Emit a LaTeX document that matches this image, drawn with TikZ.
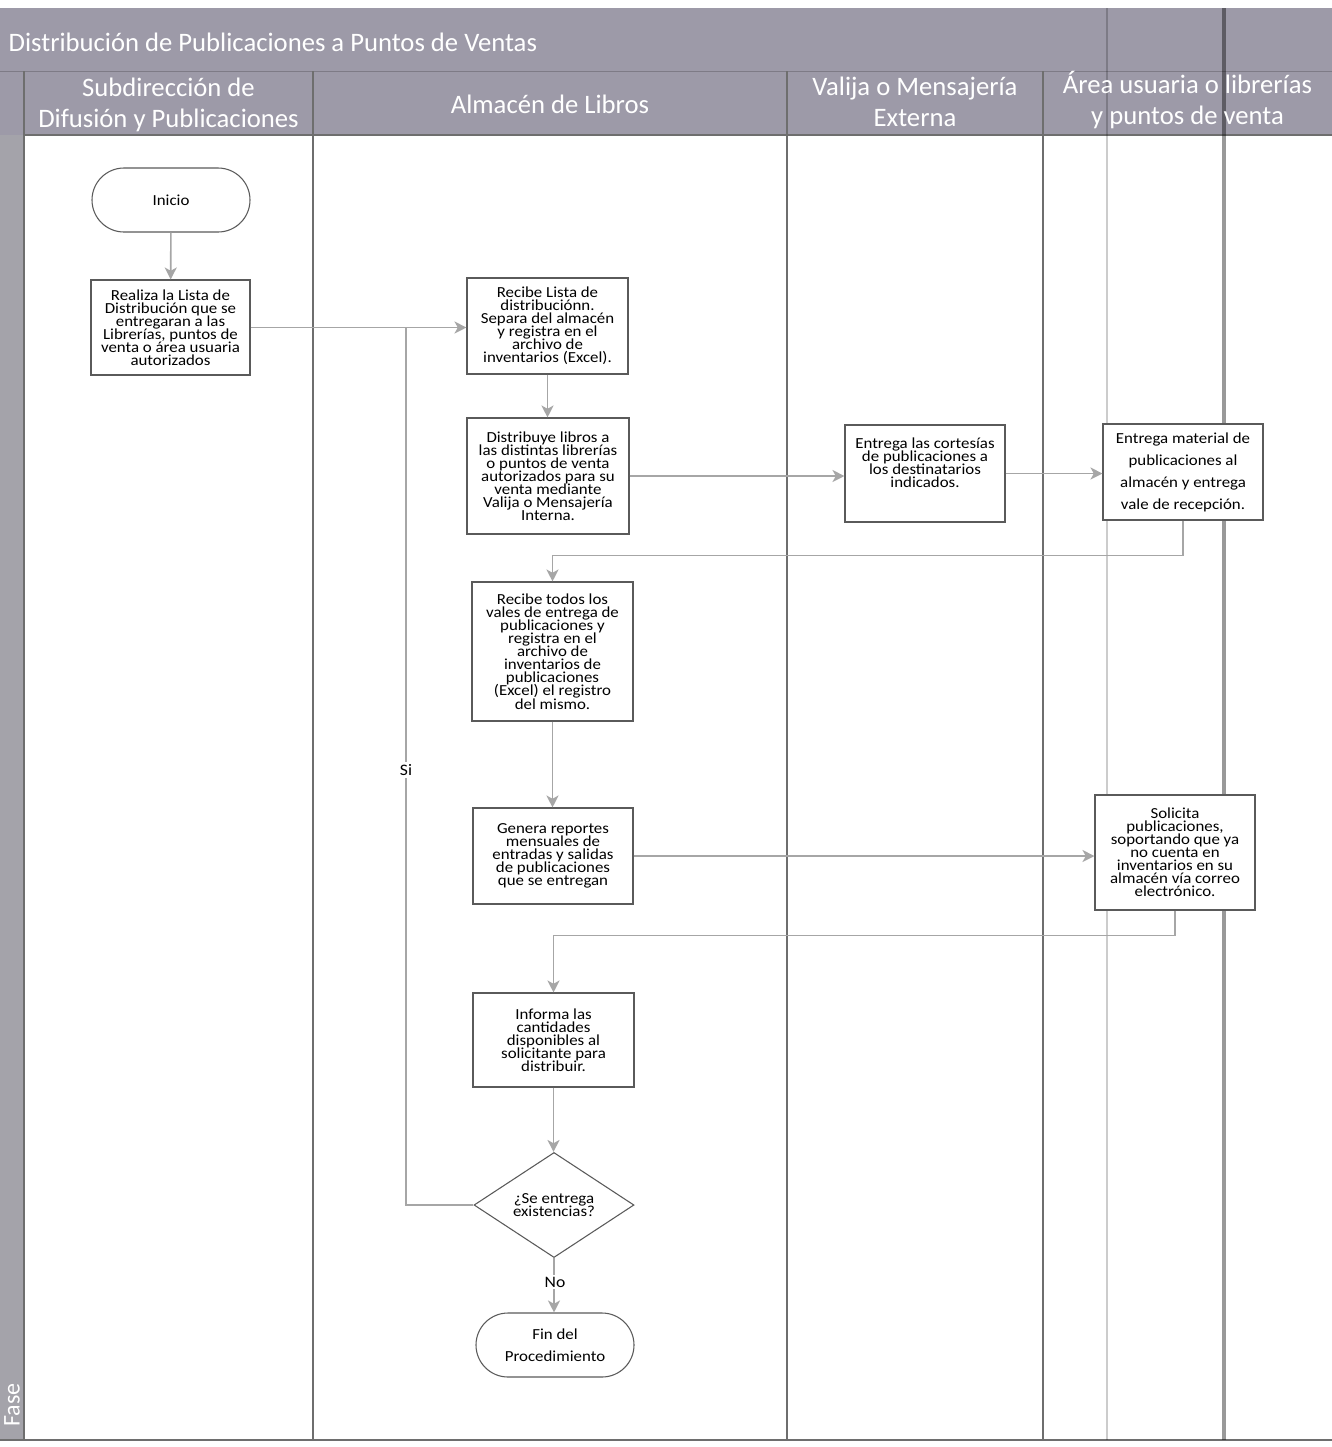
\documentclass[tikz,border=0pt]{standalone}
\usepackage{fontspec}
\setmainfont{Carlito}
\newfontfamily\boxfont{Carlito}[FakeStretch=1.1]
\usetikzlibrary{shapes.geometric,arrows.meta}

\definecolor{headgray}{HTML}{9D9AA8}
\definecolor{stripgray}{HTML}{A4A3AA}
\definecolor{lanegray}{HTML}{6E6E6E}
\definecolor{flowgray}{HTML}{A6A6A6}
\definecolor{boxline}{HTML}{5A5A5A}

% tight, uniform line spacing inside the step boxes
\newcommand{\tightfont}[2]{\boxfont\fontsize{#1}{#2}\selectfont\lineskiplimit=-20pt\lineskip=0pt}

\tikzset{
  stepbox/.style={draw=boxline, line width=0.8pt, fill=white, align=center, inner sep=0pt,
    font=\tightfont{11.5}{9.8}},
  term/.style={stepbox, rounded corners=24pt, minimum width=118.5pt, minimum height=48pt,
    font=\tightfont{11.5}{16.5}},
  choice/.style={diamond, draw=boxline, line width=0.8pt, fill=white, align=center, inner sep=0pt,
    font=\tightfont{11.5}{9.8}, minimum width=120pt, minimum height=69pt},
  flow/.style={draw=flowgray, line width=1.2pt, -{Stealth[length=9pt,width=9pt,inset=2.5pt,fill=flowgray]}},
  plainflow/.style={draw=flowgray, line width=1.2pt},
  lane/.style={draw=lanegray, line width=0.9pt},
  lanehead/.style={text=white, align=center, font=\fontsize{20}{23.25}\selectfont},
  lbl/.style={fill=white, inner sep=1.5pt, font=\boxfont\fontsize{12}{14}\selectfont}
}

\begin{document}
\begin{tikzpicture}[x=0.75pt, y=-0.75pt]
  \useasboundingbox (0,0) rectangle (1332,1447);

  % pool background, header band and phase strip
  \fill[white] (0,0) rectangle (1332,1447);
  \fill[headgray] (0,8) rectangle (1332,135);
  \fill[stripgray] (0,135) rectangle (24,1440);
  \draw[headgray!80!black, line width=0.6pt] (0,71) -- (1332,71);

  % lane separators
  \draw[lane] (24,71) -- (24,1440);
  \draw[lane] (313,71) -- (313,1440);
  \draw[lane] (787,71) -- (787,1440);
  \draw[lane] (1043,71) -- (1043,1440);
  \draw[lane] (24,135) -- (1332,135);
  \draw[lane] (0,1440) -- (1332,1440);

  % vertical streaks across the right lane
  \draw[black, opacity=0.2, line width=2pt] (1107,8) -- (1107,1440);
  \draw[black, opacity=0.4, line width=2.6pt] (1224,8) -- (1224,1440);

  % titles
  \node[anchor=west, text=white, font=\fontsize{20}{23.25}\selectfont] (title) at (4,42)
    {Distribución de Publicaciones a Puntos de Ventas};
  \node[lanehead] (h1) at (168.5,105) {Subdirección de\\Difusión y Publicaciones};
  \node[lanehead] (h2) at (550,104) {Almacén de Libros};
  \node[lanehead] (h3) at (915,102) {Valija o Mensajería\\Externa};
  \node[lanehead] (h4) at (1187.5,100) {Área usuaria o librerías\\y puntos de venta};
  \node[text=white, rotate=90, font=\fontsize{18}{20}\selectfont] (fase) at (12,1405) {Fase};

  % process steps
  \node[term] (inicio) at (171,200) {Inicio};
  \node[stepbox, minimum width=119.25pt, minimum height=71.25pt] (realiza) at (170.5,327.5)
    {Realiza la Lista de\\Distribución que se\\entregaran a las\\Librerías, puntos de\\venta o área usuaria\\autorizados};
  \node[stepbox, minimum width=120.75pt, minimum height=72pt] (recibeA) at (547.5,326)
    {Recibe Lista de\\distribuciónn.\\Separa del almacén\\y registra en el\\archivo de\\inventarios (Excel).};
  \node[stepbox, minimum width=121.5pt, minimum height=87pt] (distribuye) at (548,476)
    {Distribuye libros a\\las distintas librerías\\o puntos de venta\\autorizados para su\\venta mediante\\Valija o Mensajería\\Interna.};
  \node[stepbox, minimum width=120pt, minimum height=72.75pt] (cortesias) at (925,473.5)
    {Entrega las cortesías\\de publicaciones a\\los destinatarios\\indicados.\\[6pt]};
  \node[stepbox, minimum width=120pt, minimum height=72pt, font=\tightfont{11.5}{16.5}] (material) at (1183,472)
    {Entrega material de\\publicaciones al\\almacén y entrega\\vale de recepción.};
  \node[stepbox, minimum width=120.75pt, minimum height=104.25pt] (recibeB) at (552.5,651.5)
    {Recibe todos los\\vales de entrega de\\publicaciones y\\registra en el\\archivo de\\inventarios de\\publicaciones\\(Excel) el registro\\del mismo.};
  \node[stepbox, minimum width=120pt, minimum height=72pt] (genera) at (553,856)
    {Genera reportes\\mensuales de\\entradas y salidas\\de publicaciones\\que se entregan};
  \node[stepbox, minimum width=120pt, minimum height=86.25pt] (solicita) at (1175,852.5)
    {Solicita\\publicaciones,\\soportando que ya\\no cuenta en\\inventarios en su\\almacén vía correo\\electrónico.};
  \node[stepbox, minimum width=120.75pt, minimum height=70.5pt] (informa) at (553.5,1040)
    {Informa las\\cantidades\\disponibles al\\solicitante para\\distribuir.};
  \node[choice] (decide) at (554,1205) {¿Se entrega\\existencias?};
  \node[term] (fin) at (555,1345) {Fin del\\Procedimiento};

  % connectors
  \coordinate (sijoin) at (406,327.5);
  \draw[flow] (inicio) -- (realiza);
  \draw[flow] (realiza.east) -- (realiza.east -| recibeA.west);
  \draw[flow] (recibeA) -- (recibeA.south |- distribuye.north);
  \draw[flow] (distribuye.east) -- (distribuye.east -| cortesias.west);
  \draw[flow] (cortesias.east) -- (cortesias.east -| material.west);
  \draw[flow] (material.south) -- ++(0,35) -| (recibeB.north);
  \draw[flow] (recibeB.south) -- (recibeB.south |- genera.north);
  \draw[flow] (genera.east) -- (genera.east -| solicita.west);
  \draw[flow] (solicita.south) -- ++(0,25) -| (informa.north);
  \draw[flow] (informa.south) -- (informa.south |- decide.north);
  \draw[plainflow] (decide.west) -| (sijoin);
  \node[lbl] (si) at (406,770) {Si};
  \draw[flow] (decide.south) -- (decide.south |- fin.north);
  \node[lbl] (no) at (555,1282) {No};
\end{tikzpicture}
\end{document}
